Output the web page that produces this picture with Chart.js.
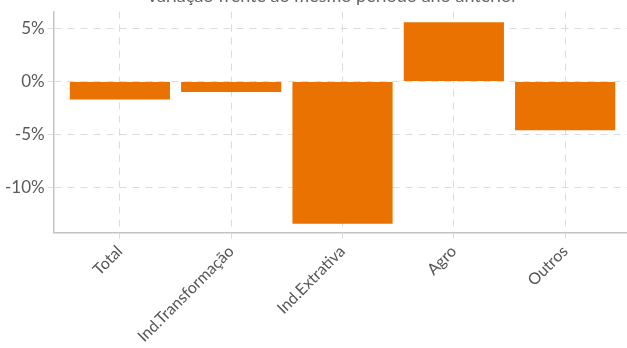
<!DOCTYPE html>
<html>
<head>
<meta charset="utf-8">
<script src="https://cdn.jsdelivr.net/npm/chart.js"></script>
<style>
  html, body { margin: 0; padding: 0; background: #fff; overflow: hidden; }
  #wrap { position: relative; width: 662px; height: 364px; margin-top: -15px; }
</style>
</head>
<body>
<div id="wrap"><canvas id="chart"></canvas></div>
<script>
// data
const titleText = 'Variação frente ao mesmo período ano anterior';
const categories = ['Total', 'Ind.Transformação', 'Ind.Extrativa', 'Agro', 'Outros'];
const values = [-1.7, -1.0, -13.45, 5.6, -4.6];

const ctx = document.getElementById('chart').getContext('2d');

const points = values.map((v, i) => ({ x: i, y: v }));

const chart = new Chart(ctx, {
  type: 'bar',
  data: {
    datasets: [{
      data: points,
      backgroundColor: '#E97200',
      borderWidth: 0,
      barPercentage: 0.9,
      categoryPercentage: 1
    }]
  },
  options: {
    responsive: true,
    maintainAspectRatio: false,
    animation: false,
    layout: { padding: { left: 2, right: 0, top: 0, bottom: 0 } },
    plugins: {
      legend: { display: false },
      tooltip: { enabled: false },
      title: {
        display: true,
        text: titleText,
        color: '#666',
        font: { family: 'Lato', size: 18, weight: 'normal' },
        padding: { top: 0, bottom: 5 }
      }
    },
    scales: {
      x: {
        type: 'linear',
        offset: false,
        min: -0.595,
        max: 4.87,
        grid: { offset: false, color: '#dcdcdc', tickLength: 6, tickBorderDash: [] },
        border: { color: '#c4c4c4', width: 1.5, dash: [7, 6] },
        ticks: {
          stepSize: 1,
          includeBounds: false,
          autoSkip: false,
          maxRotation: 45,
          minRotation: 45,
          color: '#555',
          font: { family: 'Lato', size: 16 },
          callback: v => categories[v] || ''
        }
      },
      y: {
        min: -14.3,
        max: 6.6,
        grid: { color: '#dcdcdc', tickLength: 6, tickBorderDash: [] },
        border: { color: '#c4c4c4', width: 1.5, dash: [7, 6] },
        ticks: {
          stepSize: 5,
          includeBounds: false,
          color: '#5a5a5a',
          font: { family: 'Lato', size: 17 },
          callback: v => v + '%'
        }
      }
    }
  }
});
</script>
</body>
</html>
